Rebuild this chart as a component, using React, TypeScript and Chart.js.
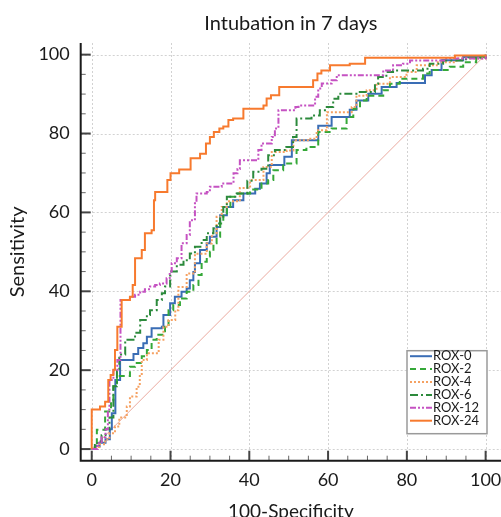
import React, { useEffect, useRef } from 'react';
import { Chart, registerables } from 'chart.js';

Chart.register(...registerables);

const FONT = 'Lato, "Open Sans", sans-serif';

const chartTitle = 'Intubation in 7 days';
const xAxisTitle = '100-Specificity';
const yAxisTitle = 'Sensitivity';
const tickValues = [0, 20, 40, 60, 80, 100];
const seriesLabels = ['ROX-0', 'ROX-2', 'ROX-4', 'ROX-6', 'ROX-12', 'ROX-24'];

// Each point (x, y): the curve runs horizontally to x, then rises to y.
const rox0X = [0, 1, 2, 3.5, 4.6, 5.1, 6, 7.2, 10.6, 11.8, 13.1, 14, 15.2, 17.8, 18.2, 19.9, 21.1, 22.8, 24.1, 24.9, 25.8, 26.2, 27.5, 29.2, 30, 31.7, 32.6, 34.3, 35.9, 38.5, 41.5, 42.7, 44.4, 45.2, 48.9, 50.8, 57.5, 60.9, 65.5, 67.2, 70.2, 73.6, 77.4, 84.6, 86.3, 88.8, 94.3, 100];
const rox0Y = [0, 0.8, 1.6, 2.5, 5, 9.1, 17.5, 22.6, 24.1, 25.6, 26.8, 28.5, 30.6, 31, 34, 37, 38.6, 39.9, 40.7, 42.8, 44.9, 47.1, 50.5, 52.2, 53.8, 56.3, 59.3, 61.4, 63.1, 64.8, 66, 67.3, 69.9, 72, 74.1, 78.3, 82, 84.2, 86, 88.4, 90.1, 91.8, 92.8, 94.8, 96.1, 98.6, 99.4, 100];

const rox2X = [0, 0.8, 1.3, 3.4, 4.9, 5.5, 6.4, 9.7, 11, 12.7, 14, 15.2, 16.5, 18.6, 19.5, 20.7, 22.4, 24.1, 25.8, 27.1, 27.9, 29.2, 30, 30.9, 31.7, 32.6, 33.4, 34.3, 35.2, 37, 40.2, 43.1, 44.8, 46.1, 48.6, 52, 54.5, 57.5, 60.9, 64.7, 66.4, 68.1, 69.8, 74, 75.7, 78.2, 84.1, 85.8, 90.9, 94.3, 97.6, 100];
const rox2Y = [0, 0.6, 4.9, 9.5, 12, 15.9, 18.5, 20.9, 21.8, 23.5, 25.1, 27.7, 29, 31, 35.2, 36.5, 38.2, 39.9, 41.6, 44.1, 47.5, 48.8, 50, 52.2, 53.8, 57.2, 59.7, 61.4, 64, 64.8, 65.8, 67.3, 68.2, 70.7, 72.4, 75.8, 76.6, 80.4, 81.3, 84.2, 86.3, 88.4, 89.6, 91, 92.6, 93.9, 95.2, 96.1, 96.9, 98.1, 99.4, 100];

const rox4X = [0, 1, 2, 3.4, 4.5, 5.9, 7, 8.9, 9.7, 11.4, 12.2, 12.7, 14, 17, 18.2, 19.5, 21.2, 22, 24.1, 26.2, 29.2, 30.5, 31.7, 33, 34.3, 37.6, 40.2, 43.6, 45.7, 49.5, 51.2, 55.5, 57.1, 59.7, 66, 67.2, 69.8, 72.3, 75.7, 79.9, 82.5, 87.6, 92.6, 100];
const rox4Y = [0, 0.5, 1.2, 2.4, 4, 5.7, 8, 10.8, 13.3, 15.8, 19, 22.6, 24.3, 27.7, 31, 32.7, 35.2, 41.1, 44.5, 49.5, 52.1, 54.7, 58.9, 61.4, 62.8, 66.2, 68.2, 71.5, 75.3, 75.7, 78.3, 78.7, 80.8, 85.4, 86.7, 89.6, 91, 92.6, 94.3, 95.6, 97.3, 98.1, 99, 100];

const rox6X = [0, 0.8, 1.5, 2.5, 3.5, 4.5, 5.5, 6.4, 7, 8.5, 11, 12.3, 14, 14.8, 16.5, 17.8, 18.6, 19.9, 21.6, 23.3, 24.9, 26.2, 27.9, 29.2, 30.9, 31.7, 32.6, 33.4, 34.3, 36.8, 39.5, 41, 43.1, 44.8, 46.5, 49.4, 51.1, 52, 55.8, 57.9, 59.2, 61.3, 62.6, 67.2, 71.9, 72.7, 74.8, 76.5, 84.1, 85.8, 89.2, 95, 100];
const rox6Y = [0, 1, 2, 3.5, 5, 8, 15.9, 20, 24, 27.7, 29.5, 32.7, 34, 35.2, 37.8, 39.5, 41.2, 45, 46.7, 47.9, 49.6, 51.3, 53, 54.7, 56, 57.2, 58.9, 61.4, 64, 64.8, 68, 70.3, 71.1, 74.5, 75.8, 76.6, 79.1, 83.8, 84.6, 85.9, 86.7, 88.8, 90.1, 90.5, 92.6, 94.3, 95.6, 96, 96.4, 97.7, 98.5, 99.2, 100];

const rox12X = [0, 1.5, 2.5, 3.5, 4.1, 4.5, 5.5, 6.5, 7.3, 9.7, 11, 12.3, 13.5, 14.8, 16.1, 17.3, 19, 19.8, 20.3, 21.6, 22.8, 24.1, 24.9, 26.2, 26.6, 29.2, 30, 33, 36, 37, 37.6, 42.3, 43.1, 45.7, 46.5, 47.4, 51.7, 52.5, 56.7, 57.5, 58.4, 60.9, 62.2, 74, 76.5, 79, 80.8, 90, 100];
const rox12Y = [0, 1.5, 3, 5, 10, 17.5, 20, 22.6, 37.8, 38.6, 39.1, 39.9, 40.5, 41.2, 41.6, 42, 43.3, 45, 47.1, 48.4, 52.2, 54.3, 58, 62.3, 64.8, 65.2, 66.5, 67.3, 69.9, 71, 73.2, 75.8, 77.5, 79.1, 81.3, 85.9, 86.7, 87.1, 89.3, 91.4, 92.7, 93.5, 94.8, 96, 97.3, 97.7, 98.5, 99, 100];

const rox24X = [0, 0, 2.1, 3.4, 4.2, 4.8, 5.5, 5.9, 6.5, 7.6, 9.7, 10.4, 11, 12.7, 13.5, 15.2, 15.8, 16.1, 19.2, 20, 22.2, 25.1, 27.5, 29, 30, 31, 32.4, 33.4, 34.7, 35.9, 38.5, 43.6, 44.4, 45.5, 47.6, 56.2, 57.3, 58.3, 60.5, 65.5, 69.4, 92.2, 100];
const rox24Y = [0, 10, 10.8, 12, 17.5, 18.8, 20.1, 25.1, 31, 37.8, 38.6, 41.6, 48.4, 50.5, 54.7, 55.5, 63.1, 65.2, 68.2, 69.9, 70.9, 73.7, 74.9, 77.5, 79.1, 80.4, 81.3, 81.8, 83.4, 83.8, 86.3, 87.1, 88.9, 89.7, 91.8, 93.5, 95.2, 96, 97.3, 97.7, 99.2, 99.8, 100];

const refX = [0, 100];
const refY = [0, 100];

const seriesX = [rox0X, rox2X, rox4X, rox6X, rox12X, rox24X];
const seriesY = [rox0Y, rox2Y, rox4Y, rox6Y, rox12Y, rox24Y];

const seriesColors = ['#3a6db5', '#35a838', '#f5a162', '#2c8a3c', '#c552c2', '#f77a2e'];
const seriesDashes: number[][] = [[], [6, 4], [2, 2], [8, 3, 2, 3], [6, 2, 2, 2, 2, 2], []];

const toPoints = (xs: number[], ys: number[]) => xs.map((x, i) => ({ x, y: ys[i] }));

const rocDecor = {
  id: 'rocDecor',
  beforeDatasetsDraw(chart: any) {
    const { ctx, chartArea, scales } = chart;
    const xs = scales.x;
    const ys = scales.y;
    ctx.save();
    ctx.strokeStyle = '#d2d2d2';
    ctx.lineWidth = 1;
    ctx.setLineDash([2, 2]);
    for (const v of tickValues) {
      const px = Math.round(xs.getPixelForValue(v)) + 0.5;
      ctx.beginPath();
      ctx.moveTo(px, chartArea.top);
      ctx.lineTo(px, chartArea.bottom);
      ctx.stroke();
      const py = Math.round(ys.getPixelForValue(v)) + 0.5;
      ctx.beginPath();
      ctx.moveTo(chartArea.left, py);
      ctx.lineTo(chartArea.right, py);
      ctx.stroke();
    }
    ctx.restore();
  },
  afterDatasetsDraw(chart: any) {
    const { ctx, chartArea, scales } = chart;
    const xs = scales.x;
    const ys = scales.y;
    ctx.save();
    // ticks (inward)
    for (let v = 0; v <= 100; v += 5) {
      const major = v % 20 === 0;
      ctx.strokeStyle = major ? '#444' : '#666';
      ctx.lineWidth = major ? 2 : 1;
      const len = major ? 10 : 5;
      const px = xs.getPixelForValue(v);
      ctx.beginPath();
      ctx.moveTo(px, chartArea.bottom);
      ctx.lineTo(px, chartArea.bottom - len);
      ctx.stroke();
      const py = ys.getPixelForValue(v);
      ctx.beginPath();
      ctx.moveTo(chartArea.left, py);
      ctx.lineTo(chartArea.left + len, py);
      ctx.stroke();
    }
    // axis lines
    ctx.strokeStyle = '#1a1a1a';
    ctx.lineWidth = 2;
    ctx.beginPath();
    ctx.moveTo(chartArea.left, chartArea.top);
    ctx.lineTo(chartArea.left, chartArea.bottom);
    ctx.lineTo(chartArea.right, chartArea.bottom);
    ctx.stroke();

    // legend
    const bw = 80;
    const bh = 83;
    const bx = chartArea.right - 14 - bw;
    const by = chartArea.bottom - 27 - bh;
    ctx.fillStyle = '#ffffff';
    ctx.fillRect(bx, by, bw, bh);
    ctx.strokeStyle = '#9a9a9a';
    ctx.lineWidth = 1.5;
    ctx.strokeRect(bx, by, bw, bh);
    ctx.font = '13px ' + FONT;
    ctx.textBaseline = 'middle';
    ctx.textAlign = 'left';
    seriesLabels.forEach((label, i) => {
      const rowY = by + 5.5 + i * 12.9;
      ctx.strokeStyle = seriesColors[i];
      ctx.lineWidth = 2;
      ctx.setLineDash(seriesDashes[i]);
      ctx.beginPath();
      ctx.moveTo(bx + 3, rowY);
      ctx.lineTo(bx + 25, rowY);
      ctx.stroke();
      ctx.setLineDash([]);
      ctx.fillStyle = '#1a1a1a';
      ctx.fillText(label, bx + 26, rowY);
    });
    ctx.restore();
  },
};

const CANVAS_H = 530;

export default function App() {
  const ref = useRef<HTMLCanvasElement>(null);
  useEffect(() => {
    const canvas = ref.current;
    if (!canvas) return;
    const datasets: any[] = seriesLabels.map((label, i) => ({
      label,
      data: toPoints(seriesX[i], seriesY[i]),
      borderColor: seriesColors[i],
      borderWidth: 2,
      borderDash: seriesDashes[i],
      stepped: 'before',
      pointRadius: 0,
      fill: false,
      order: 5 - i,
    }));
    datasets.push({
      label: 'reference',
      data: toPoints(refX, refY),
      borderColor: '#eaa99f',
      borderWidth: 1,
      pointRadius: 0,
      fill: false,
      order: 20,
    });
    const chart = new Chart(canvas, {
      type: 'line',
      data: { datasets },
      options: {
        responsive: false,
        animation: false,
        devicePixelRatio: 1,
        layout: { padding: 0 },
        plugins: {
          legend: { display: false },
          tooltip: { enabled: false },
          title: {
            display: true,
            text: chartTitle,
            fullSize: false,
            color: '#1a1a1a',
            font: { family: FONT, size: 20, weight: 'normal' },
            padding: { top: 12, bottom: 7 },
          },
        },
        scales: {
          x: {
            type: 'linear',
            min: -2.8,
            max: 103.9,
            afterBuildTicks: (s: any) => {
              s.ticks = tickValues.map((v) => ({ value: v }));
            },
            afterFit: (s: any) => {
              s.height = CANVAS_H - 460.7;
              s.paddingLeft = 0;
              s.paddingRight = 0;
            },
            grid: { display: false, drawTicks: false },
            border: { display: false },
            ticks: {
              padding: 8.5,
              color: '#1a1a1a',
              font: { family: FONT, size: 18 },
              maxRotation: 0,
              autoSkip: false,
            },
            title: {
              display: true,
              text: xAxisTitle,
              color: '#1a1a1a',
              font: { family: FONT, size: 19 },
              padding: { top: 8, bottom: 6.5 },
            },
          },
          y: {
            type: 'linear',
            min: -2.95,
            max: 102.95,
            afterBuildTicks: (s: any) => {
              s.ticks = tickValues.map((v) => ({ value: v }));
            },
            afterFit: (s: any) => {
              s.width = 80.7;
              s.paddingTop = 0;
              s.paddingBottom = 0;
            },
            grid: { display: false, drawTicks: false },
            border: { display: false },
            ticks: {
              padding: 11,
              color: '#1a1a1a',
              font: { family: FONT, size: 18 },
              autoSkip: false,
            },
            title: {
              display: true,
              text: yAxisTitle,
              color: '#1a1a1a',
              font: { family: FONT, size: 20 },
              padding: { top: 6, bottom: 8.5 },
            },
          },
        },
      } as any,
      plugins: [rocDecor],
    });
    return () => chart.destroy();
  }, []);
  return (
    <div style={{ position: 'absolute', left: 0, top: 0, width: 501, height: 517, overflow: 'hidden', background: '#fff' }}>
      <canvas ref={ref} width={501} height={CANVAS_H} style={{ display: 'block' }} />
    </div>
  );
}
